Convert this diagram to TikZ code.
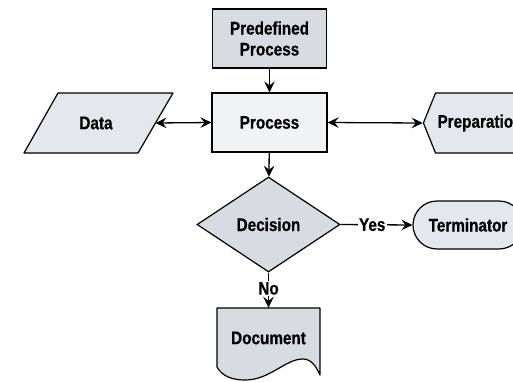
\documentclass[tikz,border=0pt]{standalone}
\usepackage{fontspec}
\setmainfont{Liberation Sans}[FakeStretch=0.84,FakeBold=0.5]
\usetikzlibrary{arrows.meta,shapes.geometric,shapes.symbols}
\definecolor{fillA}{HTML}{D7DBE2}
\definecolor{fillB}{HTML}{E4E7EB}
\definecolor{fillC}{HTML}{F1F2F4}
\tikzset{
  lbl/.style={font=\fontsize{18.2bp}{21bp}\selectfont\bfseries},
  box/.style={lbl,draw=black,line width=1.2bp,inner sep=2bp},
  shp/.style={draw=black,line width=1.2bp,line join=round},
  conn/.style={line width=1.3bp,-{Stealth[length=11bp,width=10.5bp,inset=4bp]}},
  dconn/.style={line width=1.3bp,{Stealth[length=11bp,width=10.5bp,inset=4bp]}-{Stealth[length=11bp,width=10.5bp,inset=4bp]}},
  elbl/.style={lbl,fill=white,inner sep=1.5bp}
}
\begin{document}
\begin{tikzpicture}[x=1bp,y=-1bp]
\clip (0,0) rectangle (513,381);
\fill[white] (0,0) rectangle (513,381);
% nodes
\node[box,fill=fillA,rectangle,minimum width=114bp,minimum height=59bp,align=center] (pre) at (269.5,38.5) {Predefined\\Process};
\node[box,fill=fillC,rectangle,minimum width=115bp,minimum height=59bp] (proc) at (269.5,122.5) {Process};
% data parallelogram
\filldraw[shp,fill=fillB] (58,93) -- (173,93) -- (138,153) -- (24,153) -- cycle;
\node[lbl,inner sep=2bp] (data) at (96,123) {Data};
\coordinate (dataE) at (155.5,123);
\node[box,fill=fillB,signal,signal to=west and east,signal pointer angle=136,minimum width=112bp,minimum height=60bp] (prep) at (480,123) {Preparation};
\node[box,fill=fillA,diamond,minimum width=143bp,minimum height=95bp] (dec) at (268.5,224.5) {Decision};
\node[box,fill=fillB,rectangle,rounded corners=24bp,minimum width=110bp,minimum height=48bp] (term) at (468,225) {Terminator};
% document outline
\filldraw[shp,fill=fillA]
  (217,308) -- (320,308) -- (320,375)
  .. controls (316,366) and (311,359) .. (303,359)
  .. controls (285,359) and (270,380) .. (245,380)
  .. controls (232,380) and (222,376) .. (217,367) -- cycle;
\node[lbl,rectangle,minimum width=103bp,minimum height=60bp,inner sep=2bp] (doc) at (268.5,338) {Document};
% connectors
\draw[conn] (pre) -- (proc);
\draw[dconn] (dataE) -- (proc.west);
\draw[dconn] (proc.east) -- (prep.west);
\draw[conn] (proc) -- (dec);
\draw[conn] (dec.east) -- node[elbl,pos=0.44] {Yes} (term.west);
\draw[conn] (dec.south) -- node[elbl,pos=0.45] {No} (doc.north);
\end{tikzpicture}
\end{document}
